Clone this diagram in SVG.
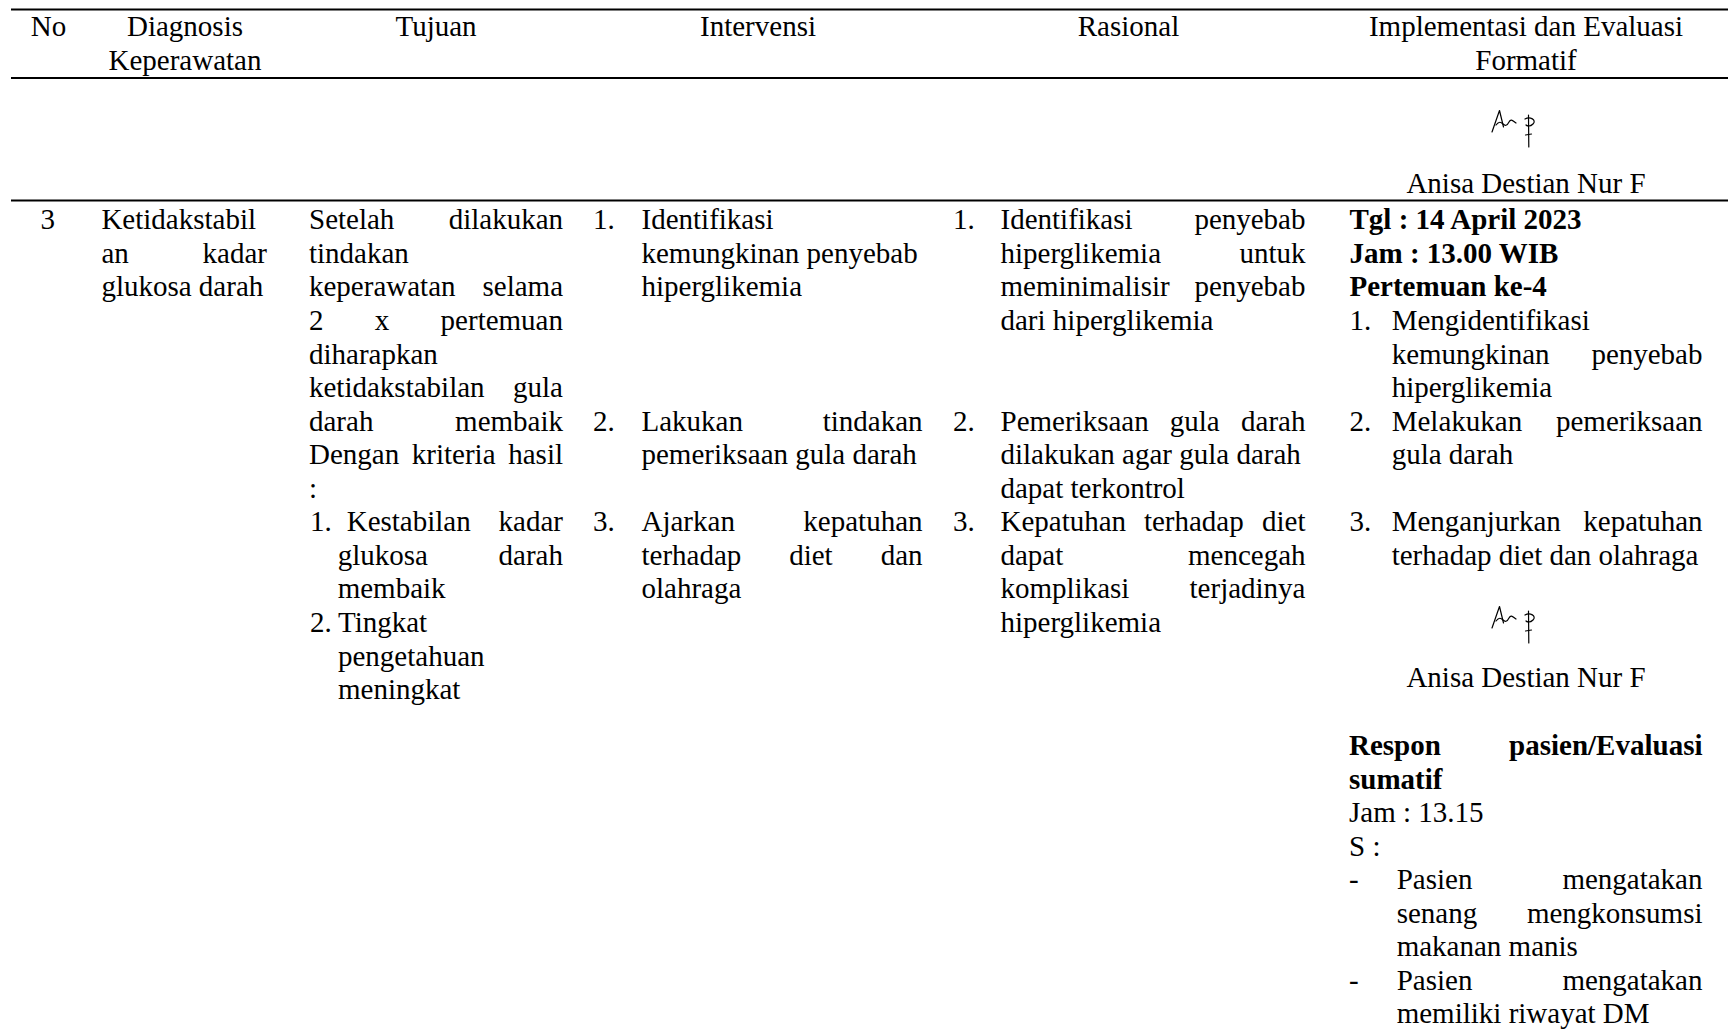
<svg xmlns="http://www.w3.org/2000/svg" width="1728" height="1031" viewBox="0 0 1728 1031">
<style>
text{font-family:"Liberation Serif","Times New Roman",serif;font-size:29px;fill:#000}
.b{font-weight:bold}
.e{text-anchor:end}
.m{text-anchor:middle}
.rule{stroke:#000;stroke-width:2.2}
.sig{fill:none;stroke:#000;stroke-width:1.2;stroke-linecap:round;stroke-linejoin:round}
</style>
<defs>
<g id="signature">
<path class="sig" d="M0,23 L7.5,1.5 L11.5,18"/>
<path class="sig" d="M4,16 C7,12 9,13 11,15 S15,17 17,13 S21,12 24,14"/>
<path class="sig" d="M33,10 C38,7 45,11 41,15 C38,18 35,17 34,16"/>
<path class="sig" d="M36.5,6 L36.8,38"/>
<path class="sig" d="M33.5,26 L39.5,25"/>
</g>
</defs>
<rect width="1728" height="1031" fill="#fff"/>
<g id="rules">
<line class="rule" x1="11" y1="9.5" x2="1728" y2="9.5"/>
<line class="rule" x1="11" y1="78" x2="1728" y2="78"/>
<line class="rule" x1="11" y1="200.5" x2="1728" y2="200.5"/>
</g>
<g id="header">
<text class="m" x="48.5" y="36">No</text>
<text class="m" x="185" y="36">Diagnosis</text>
<text class="m" x="185" y="70">Keperawatan</text>
<text class="m" x="436" y="36">Tujuan</text>
<text class="m" x="758" y="36">Intervensi</text>
<text class="m" x="1128.5" y="36">Rasional</text>
<text class="m" x="1526" y="36">Implementasi dan Evaluasi</text>
<text class="m" x="1526" y="70">Formatif</text>
</g>
<g id="prev-signature">
<use href="#signature" x="1492" y="109"/>
<text class="m" x="1526" y="193">Anisa Destian Nur F</text>
</g>
<g id="cell-no">
<text class="m" x="47.8" y="229.3">3</text>
</g>
<g id="cell-diagnosis">
<text x="101.4" y="229.3">Ketidakstabil</text>
<text x="101.4" y="262.9">an</text><text class="e" x="267" y="262.9">kadar</text>
<text x="101.4" y="296.4">glukosa darah</text>
</g>
<g id="cell-tujuan">
<text x="309" y="229.3">Setelah</text><text class="e" x="563" y="229.3">dilakukan</text>
<text x="309" y="262.9">tindakan</text>
<text x="309" y="296.4">keperawatan</text><text class="e" x="563" y="296.4">selama</text>
<text x="309" y="330">2</text><text x="374.8" y="330">x</text><text class="e" x="563" y="330">pertemuan</text>
<text x="309" y="363.5">diharapkan</text>
<text x="309" y="397.1">ketidakstabilan</text><text class="e" x="563" y="397.1">gula</text>
<text x="309" y="430.6">darah</text><text class="e" x="563" y="430.6">membaik</text>
<text x="309" y="464.2">Dengan</text><text x="411.8" y="464.2">kriteria</text><text class="e" x="563" y="464.2">hasil</text>
<text x="309" y="497.7">:</text>
<text x="310" y="531.3">1.</text><text x="346.7" y="531.3">Kestabilan</text><text class="e" x="563" y="531.3">kadar</text>
<text x="337.7" y="564.8">glukosa</text><text class="e" x="563" y="564.8">darah</text>
<text x="337.7" y="598.4">membaik</text>
<text x="310" y="631.9">2.</text><text x="338" y="631.9">Tingkat</text>
<text x="338" y="665.5">pengetahuan</text>
<text x="338" y="699">meningkat</text>
</g>
<g id="cell-intervensi">
<text x="593" y="229.3">1.</text><text x="641.5" y="229.3">Identifikasi</text>
<text x="641.5" y="262.9">kemungkinan penyebab</text>
<text x="641.5" y="296.4">hiperglikemia</text>
<text x="593" y="430.6">2.</text><text x="641.5" y="430.6">Lakukan</text><text class="e" x="922.5" y="430.6">tindakan</text>
<text x="641.5" y="464.2">pemeriksaan gula darah</text>
<text x="593" y="531.3">3.</text><text x="641.5" y="531.3">Ajarkan</text><text class="e" x="922.5" y="531.3">kepatuhan</text>
<text x="641.5" y="564.8">terhadap</text><text x="789.2" y="564.8">diet</text><text class="e" x="922.5" y="564.8">dan</text>
<text x="641.5" y="598.4">olahraga</text>
</g>
<g id="cell-rasional">
<text x="953" y="229.3">1.</text><text x="1000.5" y="229.3">Identifikasi</text><text class="e" x="1305.5" y="229.3">penyebab</text>
<text x="1000.5" y="262.9">hiperglikemia</text><text class="e" x="1305.5" y="262.9">untuk</text>
<text x="1000.5" y="296.4">meminimalisir</text><text class="e" x="1305.5" y="296.4">penyebab</text>
<text x="1000.5" y="330">dari hiperglikemia</text>
<text x="953" y="430.6">2.</text><text x="1000.5" y="430.6">Pemeriksaan</text><text x="1169.7" y="430.6">gula</text><text class="e" x="1305.5" y="430.6">darah</text>
<text x="1000.5" y="464.2">dilakukan agar gula darah</text>
<text x="1000.5" y="497.7">dapat terkontrol</text>
<text x="953" y="531.3">3.</text><text x="1000.5" y="531.3">Kepatuhan</text><text x="1143.9" y="531.3">terhadap</text><text class="e" x="1305.5" y="531.3">diet</text>
<text x="1000.5" y="564.8">dapat</text><text class="e" x="1305.5" y="564.8">mencegah</text>
<text x="1000.5" y="598.4">komplikasi</text><text class="e" x="1305.5" y="598.4">terjadinya</text>
<text x="1000.5" y="631.9">hiperglikemia</text>
</g>
<g id="cell-implementasi">
<text class="b" x="1349.5" y="229.3">Tgl : 14 April 2023</text>
<text class="b" x="1349.5" y="262.9">Jam : 13.00 WIB</text>
<text class="b" x="1349.5" y="296.4">Pertemuan ke-4</text>
<text x="1349.5" y="330">1.</text><text x="1391.7" y="330">Mengidentifikasi</text>
<text x="1391.7" y="363.5">kemungkinan</text><text class="e" x="1702.5" y="363.5">penyebab</text>
<text x="1391.7" y="397.1">hiperglikemia</text>
<text x="1349.5" y="430.6">2.</text><text x="1391.7" y="430.6">Melakukan</text><text class="e" x="1702.5" y="430.6">pemeriksaan</text>
<text x="1391.7" y="464.2">gula darah</text>
<text x="1349.5" y="531.3">3.</text><text x="1391.7" y="531.3">Menganjurkan</text><text class="e" x="1702.5" y="531.3">kepatuhan</text>
<text x="1391.7" y="564.8">terhadap diet dan olahraga</text>
<use href="#signature" x="1492" y="605"/>
<text class="m" x="1526" y="687.3">Anisa Destian Nur F</text>
<text class="b" x="1349" y="755">Respon</text><text class="b e" x="1702.5" y="755">pasien/Evaluasi</text>
<text class="b" x="1349" y="788.5">sumatif</text>
<text x="1349" y="822">Jam : 13.15</text>
<text x="1349" y="855.5">S :</text>
<text x="1349" y="889">-</text><text x="1396.7" y="889">Pasien</text><text class="e" x="1702.5" y="889">mengatakan</text>
<text x="1396.7" y="922.5">senang</text><text class="e" x="1702.5" y="922.5">mengkonsumsi</text>
<text x="1396.7" y="956">makanan manis</text>
<text x="1349" y="989.5">-</text><text x="1396.7" y="989.5">Pasien</text><text class="e" x="1702.5" y="989.5">mengatakan</text>
<text x="1396.7" y="1023">memiliki riwayat DM</text>
</g>
</svg>
